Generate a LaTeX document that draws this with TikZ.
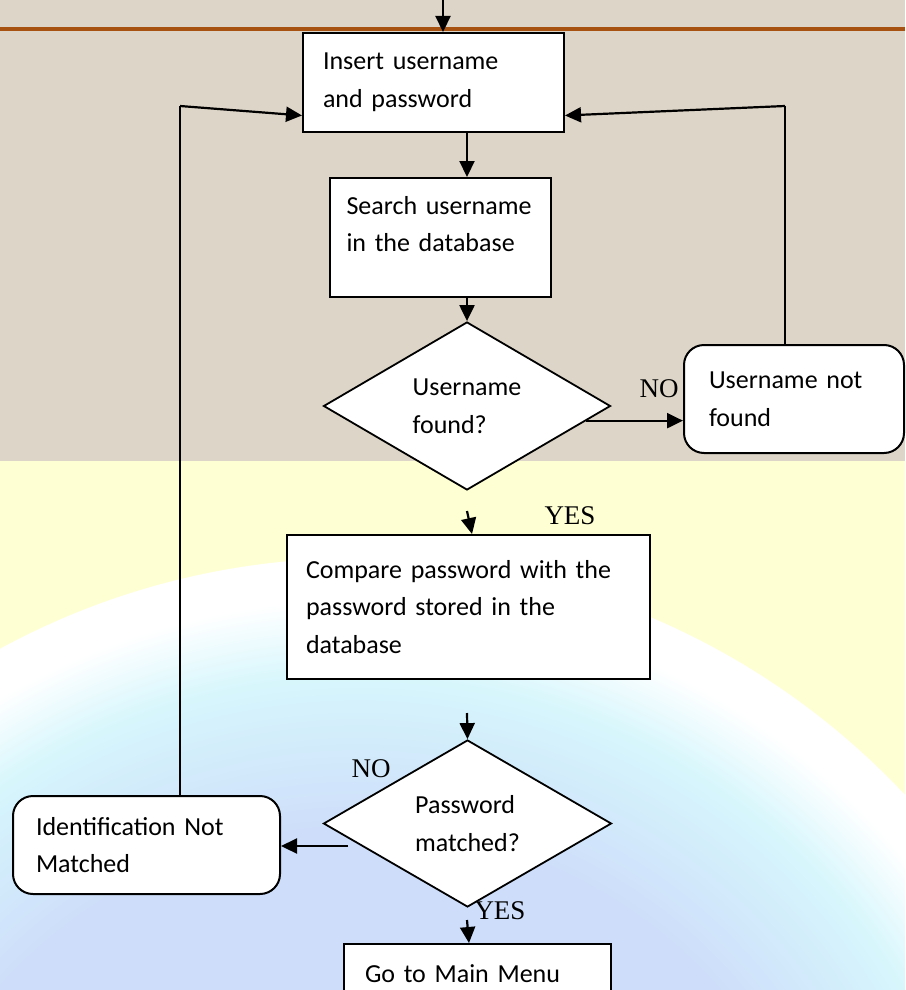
\documentclass[tikz,border=0pt]{standalone}
\usepackage{fontspec}
\setmainfont{Carlito}
\newfontfamily\yesnofont{Liberation Serif}
\usetikzlibrary{arrows.meta,shapes.geometric}

\definecolor{sandbg}{RGB}{221,213,199}
\definecolor{paleyellow}{RGB}{255,255,212}
\definecolor{globecyan}{RGB}{214,246,252}
\definecolor{globedeep}{RGB}{206,222,250}
\definecolor{rimbrown}{RGB}{168,82,18}
\pgfdeclareradialshading{globeshade}{\pgfpoint{0bp}{0bp}}{color(0bp)=(globedeep); color(16bp)=(globedeep); color(21bp)=(globecyan); color(23.6bp)=(white); color(25bp)=(white); color(50bp)=(white)}

\begin{document}
\begin{tikzpicture}
        [
            x = 1pt, y = -1pt,
            every node/.append style = {font = \fontsize{26}{37.5}\selectfont, align = left},
            box/.style = {draw, fill = white, line width = 2pt, inner sep = 0pt},
            roundbox/.style = {box, rounded corners = 20pt},
            decision/.style = {draw, fill = white, line width = 1.8pt, diamond, inner sep = 0pt},
            answer/.style = {font = \yesnofont\fontsize{27}{27}\selectfont, inner sep = 0pt},
            flow/.style = {line width = 2.2pt, -{Triangle[length = 16pt, width = 15pt]}},
            back/.style = {line width = 1.6pt}]
        \useasboundingbox (0,0) rectangle (905,990);
        \clip (0,0) rectangle (905,990);
        % background
        \fill[paleyellow] (0,0) rectangle (905,990);
        \shade[shading = globeshade] (358,1308) circle [radius = 750];
        \fill[sandbg] (0,0) rectangle (905,461);
        \draw[rimbrown, line width = 4pt] (0,29) -- (905,29);
        % steps
        \node[box, minimum width = 261, minimum height = 99, text width = 221] (ins) at (433.5,82.5) {Insert username\\and password};
        \node[box, minimum width = 221, minimum height = 119, text width = 188, text depth = 65pt] (srch) at (440.5,237.5) {Search username\\in the database};
        \node[decision, minimum width = 287, minimum height = 168] (uf) at (467,406) {Username\\found?};
        \node[roundbox, minimum width = 220, minimum height = 108, text width = 170] (unf) at (794,399) {Username not\\found};
        \node[box, minimum width = 363, minimum height = 144, text width = 325] (cmp) at (468.5,607) {Compare password with the\\password stored in the\\database};
        \node[decision, minimum width = 288, minimum height = 167] (pm) at (467.5,823.5) {Password\\matched?};
        \node[roundbox, minimum width = 267, minimum height = 98, text width = 221] (idn) at (146.5,845) {Identification Not\\Matched};
        \node[box, minimum width = 267, minimum height = 60, text width = 225] (menu) at (477.5,974) {Go to Main Menu};
        % answers
        \node[answer] (nouser) at (659,389) {NO};
        \node[answer] (yesuser) at (570,516) {YES};
        \node[answer] (nopass) at (371,769) {NO};
        \node[answer] (yespass) at (500,911) {YES};
        % connectors
        \coordinate (entry) at (443,0);
        \coordinate (rturn) at (785,106);
        \coordinate (lturn) at (180,106);
        \coordinate (yesstart) at (467,511);
        \coordinate (cmpout) at (467,713);
        \coordinate (nostart) at (348,846);
        \coordinate (menustart) at (467,920);
        \draw[flow] (entry) -- (entry |- ins.north);
        \draw[flow] (ins.south -| uf.north) -- (srch.north -| uf.north);
        \draw[flow] (srch.south -| uf.north) -- (uf.north);
        \draw[flow] (uf.-7) -- (uf.-7 -| unf.west);
        \draw[back] (unf.north -| rturn) -- (rturn);
        \draw[flow] (rturn) -- ([yshift = -33pt]ins.east);
        \draw[flow] (yesstart) -- ([xshift = 3.5pt]cmp.north);
        \draw[flow] (cmpout) -- (pm.north);
        \draw[flow] (nostart) -- (nostart -| idn.east);
        \draw[flow] (menustart) -- ([xshift = -8.5pt]menu.north);
        \draw[back] (idn.north -| lturn) -- (lturn);
        \draw[flow] (lturn) -- ([yshift = -33pt]ins.west);
    \end{tikzpicture}
\end{document}
